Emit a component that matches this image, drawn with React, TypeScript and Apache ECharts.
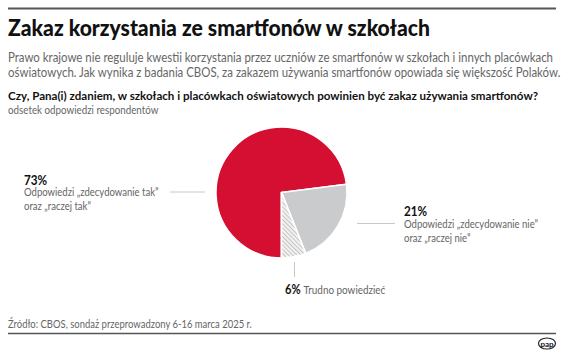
import React, { useEffect, useRef } from "react";
import * as echarts from "echarts";

const categories = [
  "Odpowiedzi „zdecydowanie tak”\noraz „raczej tak”",
  "Odpowiedzi „zdecydowanie nie”\noraz „raczej nie”",
  "Trudno powiedzieć",
];
const values = [73, 21, 6];
const colors = ["#D40F32", "#C9CBCD", "#F2F2F2"];

const title = "Zakaz korzystania ze smartfonów w szkołach";
const subtitle1 =
  "Prawo krajowe nie reguluje kwestii korzystania przez uczniów ze smartfonów w szkołach i innych placówkach";
const subtitle2 =
  "oświatowych. Jak wynika z badania CBOS, za zakazem używania smartfonów opowiada się większość Polaków.";
const question =
  "Czy, Pana(i) zdaniem, w szkołach i placówkach oświatowych powinien być zakaz używania smartfonów?";
const unit = "odsetek odpowiedzi respondentów";
const source = "Źródło: CBOS, sondaż przeprowadzony 6-16 marca 2025 r.";

const FONT = "Lato, 'Source Sans Pro', 'Noto Sans', sans-serif";

function txt(x: number, y: number, sx: number, style: any) {
  return {
    type: "text",
    x,
    y,
    scaleX: sx,
    style: { x: 0, y: 0, textVerticalAlign: "middle", ...style },
  };
}

export default function App() {
  const ref = useRef<HTMLDivElement>(null);
  useEffect(() => {
    if (!ref.current) return;
    const chart = echarts.init(ref.current, null, { renderer: "svg" });
    const gray = "#666";
    const lineColor = "#c8c8c8";
    chart.setOption({
      animation: false,
      backgroundColor: "#fff",
      textStyle: { fontFamily: FONT },
      series: [
        {
          type: "pie",
          center: [281.5, 192.5],
          radius: 65.5,
          startAngle: 270,
          clockwise: true,
          silent: true,
          label: { show: false },
          labelLine: { show: false },
          itemStyle: { borderColor: "#fff", borderWidth: 1.5 },
          data: values.map((v, i) => ({
            name: categories[i],
            value: v,
            itemStyle:
              i === 2
                ? {
                    color: colors[i],
                    decal: {
                      symbol: "rect",
                      symbolSize: 1,
                      color: "#c4c4c4",
                      dashArrayX: [1, 0],
                      dashArrayY: [1, 2],
                      rotation: Math.PI / 4,
                    },
                  }
                : { color: colors[i] },
          })),
        },
      ],
      graphic: [
        { type: "line", shape: { x1: 8, y1: 8.5, x2: 556, y2: 8.5 }, style: { stroke: "#555", lineWidth: 2 } },
        txt(8, 28, 0.96, { text: title, font: `900 22px ${FONT}`, fill: "#111" }),
        txt(8, 57, 0.88, { text: subtitle1, font: `13px ${FONT}`, fill: gray }),
        txt(8, 72, 0.88, { text: subtitle2, font: `13px ${FONT}`, fill: gray }),
        txt(8, 95, 0.965, { text: question, font: `bold 12px ${FONT}`, fill: "#111" }),
        txt(8, 110, 0.89, { text: unit, font: `11px ${FONT}`, fill: gray }),
        // left label
        txt(24, 180, 0.9, { text: values[0] + "%", font: `bold 13px ${FONT}`, fill: "#111" }),
        {
          type: "text", x: 24, y: 185, scaleX: 0.83,
          style: { x: 0, y: 0, text: categories[0], font: `11.5px ${FONT}`, fill: gray, lineHeight: 14, textVerticalAlign: "top" },
        },
        { type: "line", shape: { x1: 170, y1: 192, x2: 205, y2: 192 }, style: { stroke: lineColor, lineWidth: 1 } },
        // right label
        txt(404, 211, 0.9, { text: values[1] + "%", font: `bold 13px ${FONT}`, fill: "#111" }),
        {
          type: "text", x: 404, y: 217, scaleX: 0.83,
          style: { x: 0, y: 0, text: categories[1], font: `11.5px ${FONT}`, fill: gray, lineHeight: 14, textVerticalAlign: "top" },
        },
        { type: "line", shape: { x1: 357, y1: 223.5, x2: 395, y2: 223.5 }, style: { stroke: lineColor, lineWidth: 1 } },
        // bottom label
        { type: "line", shape: { x1: 294.5, y1: 262, x2: 294.5, y2: 277 }, style: { stroke: lineColor, lineWidth: 1 } },
        txt(285, 289, 0.86, {
          text: `{b|${values[2]}%} {n|${categories[2]}}`,
          rich: {
            b: { font: `bold 13px ${FONT}`, fill: "#111" },
            n: { font: `11.5px ${FONT}`, fill: gray },
          },
        }),
        // source
        txt(8, 324, 0.86, { text: source, font: `11px ${FONT}`, fill: gray }),
        { type: "line", shape: { x1: 8, y1: 333.5, x2: 556, y2: 333.5 }, style: { stroke: "#555", lineWidth: 1.5 } },
        // pap logo
        {
          type: "ellipse", shape: { cx: 547, cy: 343.5, rx: 8.5, ry: 5.5 },
          style: { fill: "#fff", stroke: "#222", lineWidth: 1.2 },
        },
        {
          type: "text", x: 547, y: 343.5,
          style: { text: "pap", font: `bold 8px ${FONT}`, fill: "#111", textAlign: "center", textVerticalAlign: "middle" },
        },
      ],
    });
    return () => chart.dispose();
  }, []);
  return <div ref={ref} style={{ width: 564, height: 357, position: "absolute", left: 0, top: 0 }} />;
}
